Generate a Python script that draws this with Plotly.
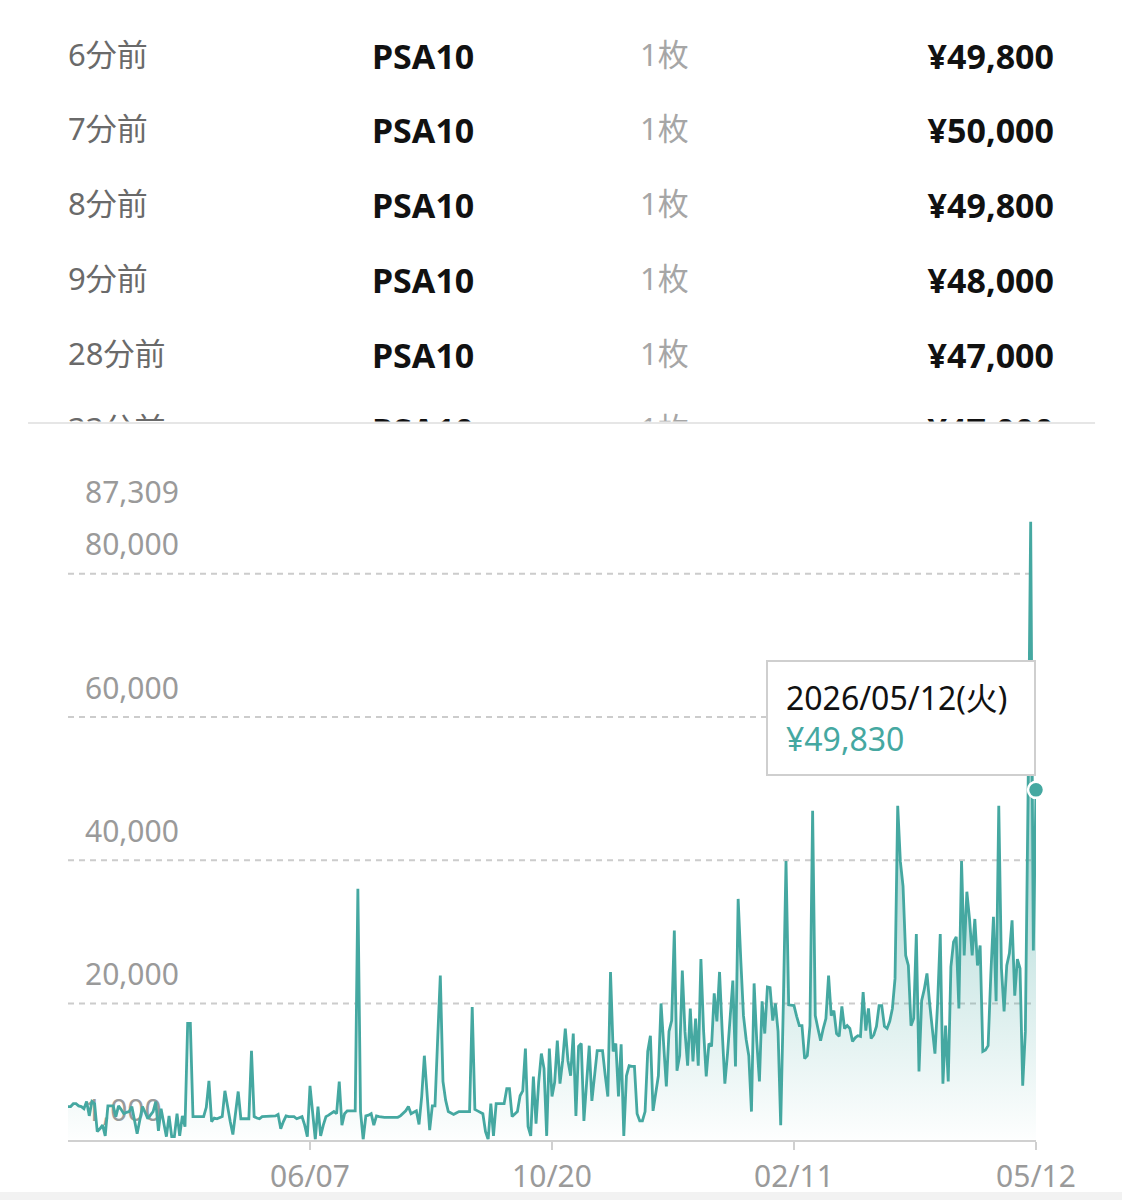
import plotly.graph_objects as go

# ---------------- recent sales table ----------------
ago = ["6分前", "7分前", "8分前", "9分前", "28分前", "33分前"]
grade = ["PSA10", "PSA10", "PSA10", "PSA10", "PSA10", "PSA10"]
qty = ["1枚", "1枚", "1枚", "1枚", "1枚", "1枚"]
price = ["¥49,800", "¥50,000", "¥49,800", "¥48,000", "¥47,000", "¥47,000"]

# ---------------- price history (one value per sale day, category axis) ----------------
values = [
    5600, 5600, 6000, 6000, 5700, 5600, 5300, 6300, 4300, 6300,
    6000, 2100, 2500, 3000, 1500, 5700, 5700, 5700, 4200, 5700,
    5200, 4600, 4800, 4900, 5600, 3700, 1800, 3700, 5600, 4800,
    3900, 4400, 4900, 6300, 2200, 5300, 3500, 1400, 4300, 1400,
    1400, 4600, 1500, 4300, 2800, 17200, 17200, 4200, 4200, 4200,
    4200, 4200, 5500, 9200, 3500, 4000, 3900, 4100, 4200, 7800,
    5300, 3500, 1700, 5000, 7700, 3900, 3900, 3900, 3900, 13400,
    4200, 4000, 3900, 4200, 4200, 4200, 4200, 4200, 4300, 4500,
    2500, 3500, 4300, 4200, 4200, 4200, 3900, 4000, 4200, 3000,
    1400, 8500, 5000, 1000, 5600, 1500, 3000, 4200, 4400, 4700,
    4900, 4600, 9100, 3000, 4600, 5000, 5000, 5000, 5000, 36000,
    4900, 1000, 4300, 4400, 4600, 3000, 4300, 4200, 4100, 4100,
    4100, 4100, 4100, 4100, 4100, 4300, 4600, 5000, 5600, 4600,
    4800, 5000, 3100, 7000, 12700, 7000, 2300, 5700, 5700, 15000,
    23900, 9100, 6500, 4900, 4700, 4500, 4700, 4900, 4900, 4900,
    4900, 4900, 19500, 5200, 5000, 4800, 4600, 2100, 1000, 6000,
    1500, 6000, 6000, 6000, 6000, 8100, 8100, 4200, 4500, 4900,
    7100, 7800, 13700, 2800, 1500, 9800, 3200, 9000, 13000, 10900,
    1500, 13700, 7000, 9000, 14800, 8800, 12000, 16500, 12000, 9900,
    15800, 4300, 14000, 14400, 3600, 9000, 14100, 6400, 10000, 13400,
    13400, 13400, 10000, 7000, 24400, 13300, 14400, 7000, 14300, 1500,
    9900, 11300, 11200, 11200, 4600, 3600, 3600, 4900, 13300, 15500,
    5000, 7700, 9900, 20000, 14000, 8400, 16100, 17600, 30200, 10600,
    12700, 24600, 16100, 11300, 19300, 11900, 17900, 11300, 26200, 16200,
    9800, 14400, 14000, 21400, 17500, 24400, 16100, 8800, 13000, 18000,
    23200, 11200, 34600, 26000, 18300, 15000, 12700, 4900, 22800, 14700,
    9100, 20300, 15800, 22300, 22200, 17600, 20000, 16100, 3000, 20000,
    39900, 19800, 19700, 19700, 18200, 16900, 16900, 12300, 12700, 16900,
    46900, 18300, 16500, 14800, 16500, 17900, 23900, 18300, 19000, 15800,
    15400, 19600, 16500, 16900, 16500, 14700, 15200, 15500, 15400, 21600,
    16200, 19300, 15100, 15600, 16800, 19700, 19700, 16800, 16500, 17500,
    19300, 23500, 47600, 39800, 36400, 26700, 25300, 16900, 17900, 29700,
    10500, 20400, 22000, 24200, 20000, 16000, 13000, 20000, 29700, 8800,
    16900, 9100, 25100, 28600, 29300, 19300, 39900, 26700, 35600, 31800,
    26700, 31800, 25300, 28100, 13300, 13500, 14100, 23900, 32100, 20300,
    47600, 24900, 18900, 25300, 27000, 31600, 21100, 26200, 24900, 8500,
    16100, 48600, 87309, 27400, 49830,
]
tick_idx = [91, 182, 273, 364]
tick_labels = ["06/07", "10/20", "02/11", "05/12"]
grid_vals = [20000, 40000, 60000, 80000]
last_date = "2026/05/12(火)"

TEAL = "#45a8a1"
GRID = "#cccccc"
LABEL = "#9a9a9a"
FONT = "Noto Sans, Noto Sans CJK JP"

n = len(values)
x_idx = list(range(n))
y_min, y_max = min(values), max(values)
ytick_vals = [y_min] + grid_vals + [y_max]
ytick_text = [f"{v:,}" for v in ytick_vals]

W, H = 1122, 1200


def plain(s):
    return "<span>" + s + "</span>"


def bold(s):
    return "<b>" + s + "</b>"


fig = go.Figure()

# table (header row = first sale so that all rows look identical); the 6th row is cut by the domain
col_colors = ["#ffffff", "#6a6a6a", "#111111", "#a6a6a6", "#111111", "#ffffff"]
col_sizes = [31, 31, 34, 31, 34, 31]
aligns = ["left", "left", "left", "left", "right", "left"]
ROW_H = 74.8
fig.add_trace(go.Table(
    domain=dict(x=[0, 1], y=[1 - 422 / H, 1 - 24.5 / H]),
    columnwidth=[60, 304, 268, 218, 212, 60],
    header=dict(
        values=[plain(""), plain(ago[0]), bold(grade[0]), plain(qty[0]), bold(price[0]), plain("")],
        height=ROW_H, fill_color="white", line_color="white", align=aligns,
        font=dict(family=FONT, size=col_sizes, color=col_colors),
    ),
    cells=dict(
        values=[[plain("")] * (len(ago) - 1), [plain(a) for a in ago[1:]],
                [bold(g) for g in grade[1:]], [plain(q) for q in qty[1:]],
                [bold(p) for p in price[1:]], [plain("")] * (len(ago) - 1)],
        height=ROW_H, fill_color="white", line_color="white", align=aligns,
        font=dict(family=FONT, size=col_sizes, color=col_colors),
    ),
))

# price line with gradient area
fig.add_trace(go.Scatter(
    x=x_idx, y=values, mode="lines",
    line=dict(color=TEAL, width=2.8),
    fill="tozeroy",
    fillgradient=dict(type="vertical",
                      colorscale=[[0, "rgba(69,168,161,0.0)"], [1, "rgba(69,168,161,0.85)"]]),
    hoverinfo="skip", showlegend=False,
))

# selected (latest) point
fig.add_trace(go.Scatter(
    x=[x_idx[-1]], y=[values[-1]], mode="markers",
    marker=dict(size=16, color=TEAL, line=dict(color="white", width=2.5)),
    cliponaxis=False, hoverinfo="skip", showlegend=False,
))

shapes = []
for g in grid_vals:
    shapes.append(dict(type="line", xref="x domain", x0=0, x1=1, yref="y", y0=g, y1=g,
                       line=dict(color=GRID, width=2, dash="6px,5px"), layer="below"))
shapes.append(dict(type="line", xref="paper", x0=0.025, x1=0.976, yref="paper",
                   y0=1 - 423 / H, y1=1 - 423 / H, line=dict(color="#e6e6e6", width=2)))
shapes.append(dict(type="rect", xref="paper", x0=0, x1=1, yref="paper", y0=0, y1=8 / H,
                   fillcolor="#f2f2f2", line=dict(width=0), layer="below"))

fig.add_annotation(
    x=x_idx[-1], y=values[-1], xref="x", yref="y",
    text=f"{last_date}<br><span style='color:{TEAL}'>¥{values[-1]:,}</span>",
    showarrow=False, xanchor="right", yanchor="bottom", yshift=14,
    align="left", valign="middle",
    bgcolor="white", bordercolor="#cfcfcf", borderwidth=2, borderpad=18,
    width=230, height=76,
    font=dict(family=FONT, size=32, color="#111111"),
)

fig.update_layout(
    width=W, height=H,
    margin=dict(l=0, r=0, t=0, b=0, autoexpand=False),
    paper_bgcolor="white", plot_bgcolor="white",
    showlegend=False,
    shapes=shapes,
    xaxis=dict(
        domain=[68 / W, 1036 / W], range=[0, n - 1], automargin=False,
        tickmode="array", tickvals=tick_idx, ticktext=tick_labels,
        ticks="outside", ticklen=8, tickwidth=2, tickcolor="#d0d0d0",
        showline=True, linecolor="#d0d0d0", linewidth=2,
        showgrid=False, zeroline=False,
        tickfont=dict(family=FONT, size=30, color=LABEL),
        ticklabelstandoff=1,
    ),
    yaxis=dict(
        domain=[(H - 1139.5) / H, (H - 521.5) / H], range=[y_min, y_max], automargin=False,
        tickmode="array", tickvals=ytick_vals, ticktext=ytick_text,
        ticks="", showgrid=False, zeroline=False, showline=False,
        ticklabelposition="inside", ticklabeloverflow="allow",
        ticklabelshift=-29, ticklabelstandoff=14,
        tickfont=dict(family=FONT, size=30, color=LABEL),
        layer="below traces",
    ),
)

# page without the browser's default body margin, so the 1122x1200 figure fills the window exactly
fig.write_html("out.html", config={"displayModeBar": False},
               post_script="document.body.style.margin='0px';")
